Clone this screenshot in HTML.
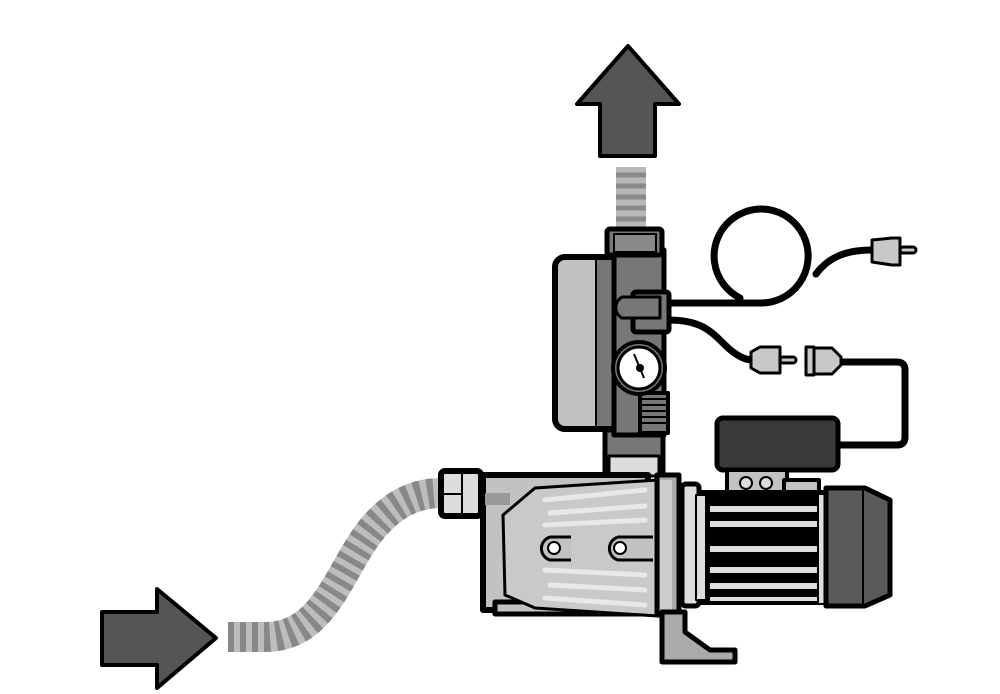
<!DOCTYPE html>
<html><head><meta charset="utf-8"><style>
html,body{margin:0;padding:0;background:#fff;width:1000px;height:694px;overflow:hidden}
svg{display:block}
</style></head><body>
<svg width="1000" height="694" viewBox="0 0 1000 694" xmlns="http://www.w3.org/2000/svg" stroke-linejoin="round">
<!-- arrows -->
<polygon points="628,46 679,104 655,104 655,156 600,156 600,104 577,104" fill="#555" stroke="#000" stroke-width="4"/>
<polygon points="102,612 157,612 157,589 216,638 157,688 157,665 102,665" fill="#555" stroke="#000" stroke-width="4"/>
<!-- top hose -->
<rect x="616" y="167" width="30" height="62" fill="#b8b8b8"/>
<g stroke="#8a8a8a" stroke-width="5"><line x1="616" y1="175" x2="646" y2="175"/><line x1="616" y1="186" x2="646" y2="186"/><line x1="616" y1="197" x2="646" y2="197"/><line x1="616" y1="208" x2="646" y2="208"/><line x1="616" y1="219" x2="646" y2="219"/></g>
<!-- inlet hose -->
<path d="M228,637 L265,637 C330,637 340,560 380,520 C400,500 420,493 442,493" fill="none" stroke="#bdbdbd" stroke-width="30"/>
<path d="M228,637 L265,637 C330,637 340,560 380,520 C400,500 420,493 442,493" fill="none" stroke="#888" stroke-width="30" stroke-dasharray="6 6"/>
<!-- cables -->
<g fill="none" stroke="#000" stroke-width="7" stroke-linecap="round">
<path d="M668,303 L760,303 A47,47 0 1 0 740,298"/>
<path d="M816,274 C830,255 850,250 872,250"/>
<path d="M668,320 C700,320 710,330 725,345 C735,355 745,360 752,360"/>
<path d="M840,362 L897,362 Q905,362 905,370 L905,437 Q905,445 897,445 L835,445"/>
</g>
<!-- plugs -->
<g stroke="#000" stroke-width="3" fill="#c8c8c8">
<polygon points="872,240 892,238 900,238 900,265 892,265 872,262"/>
<rect x="900" y="247" width="16" height="6" rx="3"/>
<polygon points="751,352 760,347 780,347 780,373 760,373 751,368"/>
<rect x="780" y="357" width="16" height="6" rx="3"/>
<rect x="806" y="347" width="8" height="28"/>
<polygon points="814,348 832,348 841,357 841,365 832,374 814,374"/>
</g>
<!-- control box -->
<rect x="717" y="418" width="121" height="52" rx="6" fill="#3a3a3a" stroke="#000" stroke-width="5"/>
<!-- pressure switch assembly -->
<rect x="605" y="430" width="58" height="45" fill="#777" stroke="#000" stroke-width="5"/>
<rect x="609" y="456" width="50" height="20" fill="#ddd" stroke="#000" stroke-width="3"/>
<rect x="555" y="257" width="85" height="172" rx="10" fill="#c2c2c2" stroke="#000" stroke-width="6"/>
<rect x="596" y="260" width="42" height="166" fill="#777"/>
<line x1="596" y1="260" x2="596" y2="426" stroke="#000" stroke-width="2"/>
<rect x="614" y="250" width="50" height="185" fill="#777" stroke="#000" stroke-width="5"/>
<rect x="607" y="229" width="55" height="26" rx="3" fill="#777" stroke="#000" stroke-width="5"/>
<rect x="614" y="234" width="42" height="18" fill="#888" stroke="#000" stroke-width="2"/>
<rect x="640" y="393" width="28" height="40" fill="#777" stroke="#000" stroke-width="4"/>
<g stroke="#000" stroke-width="2"><line x1="642" y1="399" x2="666" y2="399"/><line x1="642" y1="405" x2="666" y2="405"/><line x1="642" y1="411" x2="666" y2="411"/><line x1="642" y1="417" x2="666" y2="417"/><line x1="642" y1="423" x2="666" y2="423"/></g>
<rect x="633" y="292" width="36" height="40" rx="3" fill="#777" stroke="#000" stroke-width="5"/>
<path d="M633,297 L622,297 A12,12 0 0 0 622,318 L660,318 L660,297 Z" fill="#777" stroke="#000" stroke-width="3"/>
<circle cx="639" cy="368" r="26" fill="#777" stroke="#000" stroke-width="4"/>
<circle cx="639" cy="368" r="21" fill="#fff" stroke="#000" stroke-width="3"/>
<circle cx="640" cy="368" r="4" fill="#000"/>
<line x1="634" y1="354" x2="644" y2="378" stroke="#000" stroke-width="2"/>
<!-- inlet nut -->
<rect x="441" y="471" width="40" height="45" rx="4" fill="#ddd" stroke="#000" stroke-width="6"/>
<line x1="462" y1="474" x2="462" y2="513" stroke="#000" stroke-width="2"/>
<line x1="444" y1="494" x2="462" y2="494" stroke="#000" stroke-width="2"/>
<!-- pump body -->
<rect x="483" y="475" width="165" height="135" fill="#c2c2c2" stroke="#000" stroke-width="6"/>
<rect x="495" y="602" width="170" height="12" fill="#c2c2c2" stroke="#000" stroke-width="5"/>
<rect x="485" y="493" width="25" height="12" fill="#999"/>
<path d="M535,488 L658,480 L658,616 L535,608 L505,595 L503,515 Z" fill="#c9c9c9" stroke="#000" stroke-width="3"/>
<g stroke="#e8e8e8" stroke-width="5" stroke-linecap="round"><line x1="545" y1="500" x2="645" y2="490"/><line x1="550" y1="513" x2="645" y2="506"/><line x1="545" y1="525" x2="645" y2="520"/><line x1="545" y1="570" x2="645" y2="575"/><line x1="550" y1="585" x2="645" y2="590"/><line x1="545" y1="598" x2="645" y2="605"/></g>
<path d="M571,537 L550,537 A12,12 0 0 0 550,560 L571,560" fill="#c2c2c2" stroke="#000" stroke-width="3"/>
<path d="M653,537 L618,537 A12,12 0 0 0 618,560 L653,560" fill="#c2c2c2" stroke="#000" stroke-width="3"/>
<circle cx="554" cy="548" r="6" fill="#fff" stroke="#000" stroke-width="2"/>
<circle cx="620" cy="548" r="6" fill="#fff" stroke="#000" stroke-width="2"/>
<rect x="657" y="475" width="22" height="140" fill="#aaa" stroke="#000" stroke-width="5"/>
<rect x="660" y="480" width="12" height="132" fill="#ccc"/>
<!-- foot -->
<path d="M662,612 L662,662 L735,662 L735,650 L710,650 L685,632 L685,612 Z" fill="#aaa" stroke="#000" stroke-width="5"/>
<!-- motor -->
<rect x="727" y="470" width="60" height="30" fill="#c2c2c2" stroke="#000" stroke-width="4"/>
<circle cx="746" cy="483" r="6" fill="#ddd" stroke="#000" stroke-width="2"/>
<circle cx="766" cy="483" r="6" fill="#ddd" stroke="#000" stroke-width="2"/>
<rect x="784" y="480" width="35" height="18" fill="#c2c2c2" stroke="#000" stroke-width="4"/>
<rect x="682" y="484" width="17" height="122" rx="4" fill="#ddd" stroke="#000" stroke-width="5"/>
<rect x="697" y="490" width="130" height="115" fill="#000"/>
<rect x="696" y="495" width="10" height="105" fill="#ddd" stroke="#000" stroke-width="2"/>
<g fill="#ddd"><rect x="710" y="506" width="110" height="6"/><rect x="710" y="521" width="110" height="6"/><rect x="710" y="546" width="110" height="6"/><rect x="710" y="567" width="110" height="6"/><rect x="710" y="583" width="110" height="6"/><rect x="710" y="597" width="110" height="4"/></g>
<rect x="818" y="494" width="10" height="110" fill="#ddd" stroke="#000" stroke-width="2"/>
<path d="M826,488 L865,488 L890,500 L890,595 L865,606 L826,606 Z" fill="#5a5a5a" stroke="#000" stroke-width="5"/>
<line x1="863" y1="490" x2="863" y2="604" stroke="#000" stroke-width="2"/>
</svg>
</body></html>
